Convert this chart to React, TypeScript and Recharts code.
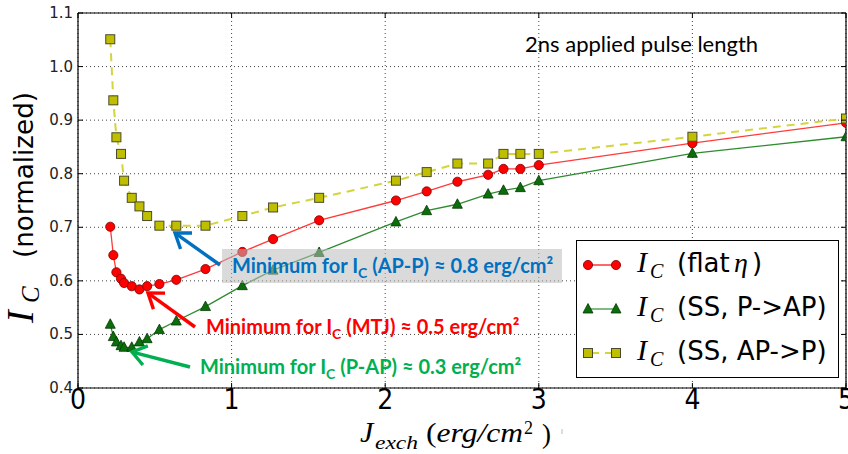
import React from 'react';
import { LineChart, Line, XAxis, YAxis, CartesianGrid, Legend } from 'recharts';

// ---- data ----
const jExch = [0.21, 0.23, 0.25, 0.28, 0.3, 0.35, 0.4, 0.45, 0.53, 0.64, 0.83, 1.07, 1.27, 1.57, 2.07, 2.27, 2.47, 2.67, 2.77, 2.88, 3.0, 4.0, 5.0];
const icFlatEta = [0.701, 0.648, 0.616, 0.604, 0.596, 0.59, 0.584, 0.59, 0.594, 0.602, 0.622, 0.654, 0.678, 0.713, 0.75, 0.767, 0.785, 0.798, 0.809, 0.809, 0.816, 0.857, 0.895];
const icSsPtoAP = [0.519, 0.496, 0.486, 0.479, 0.476, 0.476, 0.486, 0.492, 0.509, 0.525, 0.552, 0.591, 0.62, 0.653, 0.71, 0.731, 0.743, 0.762, 0.769, 0.774, 0.787, 0.838, 0.869];
const icSsAPtoP = [1.051, 0.937, 0.868, 0.837, 0.787, 0.755, 0.739, 0.721, 0.703, 0.703, 0.703, 0.721, 0.737, 0.755, 0.787, 0.803, 0.819, 0.819, 0.837, 0.837, 0.837, 0.869, 0.903];

const xTicks = [0, 1, 2, 3, 4, 5];
const yTicks = [0.4, 0.5, 0.6, 0.7, 0.8, 0.9, 1.0, 1.1];

const seriesNames = ['(flat', '(SS, P->AP)', '(SS, AP->P)'];
const annotationTexts = [
  { pre: 'Minimum for I', sub: 'C', post: ' (AP-P) ≈ 0.8 erg/cm²' },
  { pre: 'Minimum for I', sub: 'C', post: ' (MTJ) ≈ 0.5 erg/cm²' },
  { pre: 'Minimum for I', sub: 'C', post: ' (P-AP) ≈ 0.3 erg/cm²' },
];
const noteText = '2ns applied pulse length';

const data = jExch.map((x, i) => ({
  x,
  flat: icFlatEta[i],
  p2ap: icSsPtoAP[i],
  ap2p: icSsAPtoP[i],
}));

const RED = '#ff0000';
const GREEN = '#0b6e0b';
const YEL = '#bfbf00';

// ---- markers ----
const Circle = ({ cx, cy }: any) =>
  cx == null ? null : <circle cx={cx} cy={cy} r={4.6} fill={RED} stroke="#7a0000" strokeWidth={0.8} />;
const Tri = ({ cx, cy }: any) =>
  cx == null ? null : (
    <polygon points={`${cx},${cy - 5.5} ${cx - 5},${cy + 4} ${cx + 5},${cy + 4}`} fill={GREEN} stroke="#063806" strokeWidth={0.8} />
  );
const Sq = ({ cx, cy }: any) =>
  cx == null ? null : <rect x={cx - 4.5} y={cy - 4.5} width={9} height={9} fill={YEL} stroke="#4a4a2a" strokeWidth={1} />;

// ---- ticks ----
const XTickBottom = ({ x, y, payload }: any) => (
  <g>
    <line x1={x} x2={x} y1={y} y2={y - 5} stroke="#000" />
    <text x={x} y={y + 21} textAnchor="middle" fontFamily="DejaVu Sans Condensed" fontSize={28} fill="#000">
      {payload.value}
    </text>
  </g>
);
const XTickTop = ({ x, y }: any) => <line x1={x} x2={x} y1={y} y2={y + 5} stroke="#000" />;
const YTickLeft = ({ x, y, payload }: any) => (
  <g>
    <line x1={x} x2={x + 5} y1={y} y2={y} stroke="#000" />
    <text x={x - 5} y={y + 5} textAnchor="end" fontFamily="DejaVu Sans" fontSize={15} fill="#222">
      {Number(payload.value).toFixed(1)}
    </text>
  </g>
);
const YTickRight = ({ x, y }: any) => <line x1={x} x2={x - 5} y1={y} y2={y} stroke="#000" />;

// ---- legend ----
const serif = 'Liberation Serif';
const LegendBox = () => {
  const rows = [
    { y: 25, mk: (cx: number, cy: number) => <Circle cx={cx} cy={cy} />, line: <line x1={12} x2={40} y1={25} y2={25} stroke={RED} strokeWidth={1.2} /> },
    { y: 69, mk: (cx: number, cy: number) => <Tri cx={cx} cy={cy} />, line: <line x1={12} x2={40} y1={69} y2={69} stroke="#2e8b2e" strokeWidth={1.2} /> },
    { y: 113, mk: (cx: number, cy: number) => <Sq cx={cx} cy={cy} />, line: <line x1={12} x2={40} y1={113} y2={113} stroke="#d4d43c" strokeWidth={2} strokeDasharray="7 6" strokeDashoffset={-4} /> },
  ];
  return (
    <svg width={263} height={138} style={{ display: 'block' }}>
      <rect x={0.5} y={0.5} width={262} height={137} fill="#fff" stroke="#000" strokeWidth={1} />
      {rows.map((r, i) => (
        <g key={i}>
          {r.line}
          {r.mk(12, r.y)}
          {r.mk(40, r.y)}
          <text x={61} y={r.y + 7} fontFamily={serif} fontStyle="italic" fontSize={30} fill="#000">I</text>
          <text x={74} y={r.y + 13} fontFamily={serif} fontStyle="italic" fontSize={20} fill="#000">C</text>
          <text x={101} y={r.y + 7} fontFamily="DejaVu Sans" fontSize={26} fill="#000">
            {seriesNames[i]}
          </text>
          {i === 0 && (
            <>
              <text x={158} y={r.y + 7} fontFamily={serif} fontStyle="italic" fontSize={28} fill="#000">η</text>
              <text x={176} y={r.y + 7} fontFamily="DejaVu Sans" fontSize={26} fill="#000">)</text>
            </>
          )}
        </g>
      ))}
    </svg>
  );
};

// ---- annotations ----
const Arrow = ({ x1, y1, x2, y2, color }: any) => {
  const a = Math.atan2(y2 - y1, x2 - x1);
  const L = 17;
  const s = 0.62;
  const p1 = [x2 - L * Math.cos(a - s), y2 - L * Math.sin(a - s)];
  const p2 = [x2 - L * Math.cos(a + s), y2 - L * Math.sin(a + s)];
  return (
    <g stroke={color} strokeWidth={3.4} fill="none" strokeLinecap="butt">
      <line x1={x1} y1={y1} x2={x2 - 1.5 * Math.cos(a)} y2={y2 - 1.5 * Math.sin(a)} />
      <polyline points={`${p1[0]},${p1[1]} ${x2},${y2} ${p2[0]},${p2[1]}`} strokeLinejoin="miter" />
    </g>
  );
};

const Ann = ({ x, y, color, t }: any) => (
  <text x={x} y={y} fontFamily="Lato" fontWeight={700} fontSize={20} fill={color}>
    {t.pre}
    <tspan dy={5} fontSize={14}>{t.sub}</tspan>
    <tspan dy={-5}>{t.post}</tspan>
  </text>
);

export default function App() {
  return (
    <div style={{ position: 'absolute', left: 0, top: 0, width: 848, height: 454, background: '#fff' }}>
      <LineChart
        width={848}
        height={454}
        data={data}
        margin={{ top: 12, right: 0, left: 38, bottom: 36 }}
      >
        <CartesianGrid stroke="#444" strokeDasharray="1 3" strokeWidth={1} />
        <XAxis
          dataKey="x"
          type="number"
          domain={[0, 5]}
          ticks={xTicks}
          interval={0}
          allowDataOverflow
          height={30}
          tickSize={0}
          tickMargin={0}
          tickLine={false}
          tick={<XTickBottom />}
          axisLine={{ stroke: '#000', strokeWidth: 1.2 }}
        />
        <XAxis
          xAxisId="top"
          orientation="top"
          dataKey="x"
          type="number"
          domain={[0, 5]}
          ticks={xTicks}
          interval={0}
          allowDataOverflow
          height={1}
          tickSize={0}
          tickMargin={0}
          tickLine={false}
          tick={<XTickTop />}
          axisLine={{ stroke: '#000', strokeWidth: 1.2 }}
        />
        <YAxis
          type="number"
          domain={[0.4, 1.1]}
          ticks={yTicks}
          interval={0}
          allowDataOverflow
          width={40}
          tickSize={0}
          tickMargin={0}
          tickLine={false}
          tick={<YTickLeft />}
          axisLine={{ stroke: '#000', strokeWidth: 1.2 }}
        />
        <YAxis
          yAxisId="right"
          orientation="right"
          type="number"
          domain={[0.4, 1.1]}
          ticks={yTicks}
          interval={0}
          allowDataOverflow
          width={2}
          tickSize={0}
          tickMargin={0}
          tickLine={false}
          tick={<YTickRight />}
          axisLine={{ stroke: '#000', strokeWidth: 1.2 }}
        />
        <Line dataKey="flat" name="I_C (flat η)" stroke="#ff3a3a" strokeWidth={1.3} dot={<Circle />} activeDot={false} isAnimationActive={false} />
        <Line dataKey="p2ap" name="I_C (SS, P->AP)" stroke="#2e8b2e" strokeWidth={1.3} dot={<Tri />} activeDot={false} isAnimationActive={false} />
        <Line dataKey="ap2p" name="I_C (SS, AP->P)" stroke="#d4d43c" strokeWidth={2} strokeDasharray="8 6" dot={<Sq />} activeDot={false} isAnimationActive={false} />
        <Legend
          layout="horizontal"
          verticalAlign="middle"
          align="center"
          content={<LegendBox />}
          wrapperStyle={{ left: 576, top: 240, width: 263, height: 138 }}
        />
      </LineChart>
      <svg width={848} height={454} style={{ position: 'absolute', left: 0, top: 0, pointerEvents: 'none' }}>
        {/* note */}
        <text x={525} y={52} fontFamily="Lato" fontSize={22} fill="#000">{noteText}</text>
        {/* gray box + annotations */}
        <rect x={222} y={249} width={340} height={34} fill="#bcbcbc" opacity={0.55} />
        <Ann x={232} y={273} color="#0070c0" t={annotationTexts[0]} />
        <Ann x={206} y={334} color="#ff0000" t={annotationTexts[1]} />
        <Ann x={200} y={374} color="#00b050" t={annotationTexts[2]} />
        <Arrow x1={220} y1={265} x2={175} y2={233} color="#0070c0" />
        <Arrow x1={195} y1={327} x2={148} y2={293} color="#ff0000" />
        <Arrow x1={190} y1={367} x2={132} y2={352} color="#00b050" />
        {/* x axis label */}
        <text x={360} y={442} fontFamily={serif} fontStyle="italic" fontSize={30} fill="#000">J</text>
        <text x={375} y={449} fontFamily={serif} fontStyle="italic" fontSize={19} fill="#000" textLength={43} lengthAdjust="spacingAndGlyphs">exch</text>
        <text x={426} y={442} fontFamily={serif} fontStyle="italic" fontSize={27} fill="#000" textLength={97} lengthAdjust="spacingAndGlyphs">
          <tspan fontStyle="normal">(</tspan>erg/cm
        </text>
        <text x={524} y={434} fontFamily={serif} fontSize={18} fill="#000">2</text>
        <text x={542} y={443} fontFamily={serif} fontSize={27} fill="#000">)</text>
        <line x1={562} x2={562} y1={429} y2={434} stroke="#bbb" strokeWidth={1} />
        {/* y axis label */}
        <g transform="translate(33,323) rotate(-90)">
          <text x={0} y={0} fontFamily={serif} fontStyle="italic" fontSize={38} fill="#000">I</text>
          <text x={20} y={6} fontFamily={serif} fontStyle="italic" fontSize={25} fill="#000">C</text>
          <text x={65} y={0} fontFamily="DejaVu Sans" fontSize={27} fill="#000" textLength={166} lengthAdjust="spacingAndGlyphs">(normalized)</text>
        </g>
      </svg>
    </div>
  );
}
